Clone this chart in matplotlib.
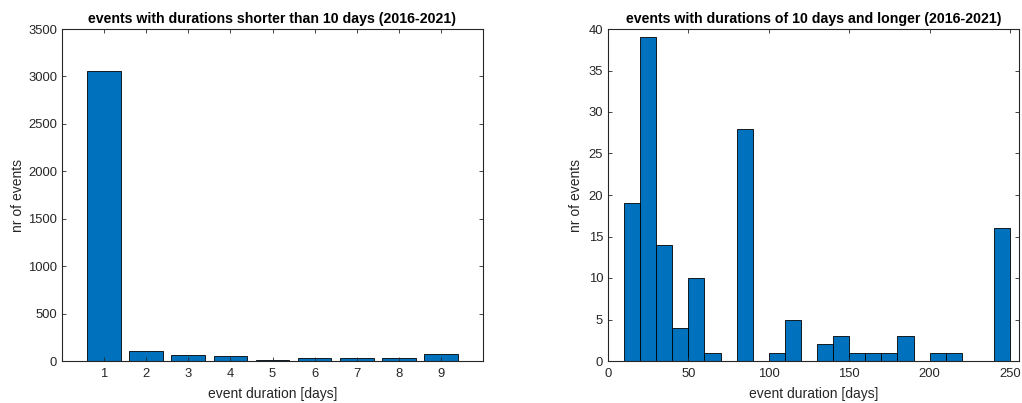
import matplotlib.pyplot as plt

plt.rcParams['font.family'] = ['Liberation Sans', 'DejaVu Sans']

# short events: duration in days -> number of events
short_days = [1, 2, 3, 4, 5, 6, 7, 8, 9]
short_counts = [3060, 110, 60, 50, 10, 28, 28, 28, 71]

# long events: histogram bins of 10 days
long_edges = [10, 20, 30, 40, 50, 60, 70, 80, 90, 100, 110, 120, 130, 140, 150,
              160, 170, 180, 190, 200, 210, 220, 230, 240, 250]
long_counts = [19, 39, 14, 4, 10, 1, 0, 28, 0, 1, 5, 0, 2, 3, 1,
               1, 1, 3, 0, 1, 1, 0, 0, 16]

bar_color = '#0072BD'
text_color = '#262626'


def matlab_style(ax):
    """Boxed axes with inward ticks on all sides."""
    for s in ax.spines.values():
        s.set_color('#262626')
        s.set_linewidth(0.8)
    ax.tick_params(direction='in', top=True, right=True, labelsize=9.4,
                   colors=text_color, length=3, width=0.6)
    ax.tick_params(axis='x', pad=5)


fig = plt.figure(figsize=(10.22, 4.03), dpi=100)
ax1 = fig.add_axes([62 / 1022, 1 - 361 / 403, 421 / 1022, 332 / 403])
ax2 = fig.add_axes([608 / 1022, 1 - 361 / 403, 411 / 1022, 332 / 403])

ax1.bar(short_days, short_counts, width=0.8, color=bar_color,
        edgecolor='black', linewidth=0.6)
ax1.set_xlim(0, 10)
ax1.set_ylim(0, 3500)
ax1.set_xticks(short_days)
ax1.set_yticks(range(0, 3501, 500))
ax1.set_xlabel('event duration [days]', fontsize=10, color=text_color, labelpad=5)
ax1.set_ylabel('nr of events', fontsize=10, color=text_color, labelpad=2)
ax1.set_title('events with durations shorter than 10 days (2016-2021)',
              fontsize=10.2, fontweight='bold', pad=4)
matlab_style(ax1)

widths = [b - a for a, b in zip(long_edges[:-1], long_edges[1:])]
ax2.bar(long_edges[:-1], long_counts, width=widths, align='edge',
        color=bar_color, edgecolor='black', linewidth=0.6)
ax2.set_xlim(0, 255.6)
ax2.set_ylim(0, 40)
ax2.set_xticks([0, 50, 100, 150, 200, 250])
ax2.set_yticks(range(0, 41, 5))
ax2.set_xlabel('event duration [days]', fontsize=10, color=text_color, labelpad=5)
ax2.set_ylabel('nr of events', fontsize=10, color=text_color, labelpad=4)
ax2.set_title('events with durations of 10 days and longer (2016-2021)',
              fontsize=10.2, fontweight='bold', pad=4)
matlab_style(ax2)

fig.savefig('out.png', dpi=100)
